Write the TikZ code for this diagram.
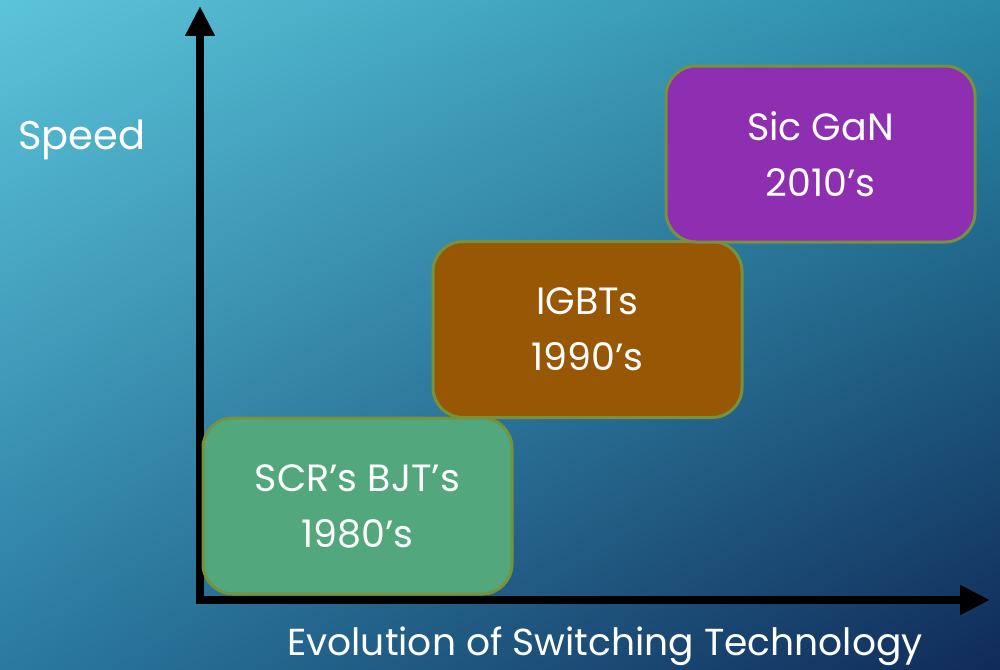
\documentclass[tikz,border=0pt]{standalone}
\usepackage{fontspec}
\setmainfont{Poppins}
\usetikzlibrary{arrows.meta,positioning,shadings}

\definecolor{bgtl}{HTML}{5CC4DA}
\definecolor{bgtr}{HTML}{2A8AA8}
\definecolor{bgbl}{HTML}{2A7AA0}
\definecolor{bgbr}{HTML}{102A58}
\definecolor{edgeolive}{HTML}{76923C}
\definecolor{eragreen}{HTML}{52A77C}
\definecolor{erabrown}{HTML}{985704}
\definecolor{erapurple}{HTML}{8E2EB0}

\begin{document}
\begin{tikzpicture}
[x=1pt, y=-1pt,
 era/.style={rectangle, draw=edgeolive, line width=3pt, rounded corners=30pt,
   minimum width=309pt, minimum height=176pt, align=center, text=white,
   font=\fontsize{38}{56}\selectfont},
 axis/.style={line width=8pt, line join=miter, {Triangle[length=30pt,width=28pt]}-{Triangle[length=30pt,width=28pt]}},
 axlabel/.style={text=white, font=\fontsize{40}{48}\selectfont}]
    % background
    \shade[upper left=bgtl, upper right=bgtr, lower left=bgbl, lower right=bgbr]
        (0,0) rectangle (1000,669);
    \useasboundingbox (0,0) rectangle (1000,669);
    % axes
    \coordinate (origin) at (200,600);
    \coordinate (ytip) at (200,6);
    \coordinate (xtip) at (990,600);
    \draw[axis] (ytip) -- (origin) -- (xtip);
    \node[axlabel] (speed) at (82,140) {Speed};
    \node[axlabel, anchor=base, font=\fontsize{37.6}{44}\selectfont] (evolution) at (605,655)
        {Evolution of Switching Technology};
    % the three eras
    \node[era, fill=eragreen] (scr) at (357.5,506) {SCR’s BJT’s\\1980’s};
    \node[era, fill=erabrown] (igbt) at (587.5,329.5) {IGBTs\\1990’s};
    \node[era, fill=erapurple] (sicgan) at (820.5,154) {Sic GaN\\2010’s};
\end{tikzpicture}
\end{document}
